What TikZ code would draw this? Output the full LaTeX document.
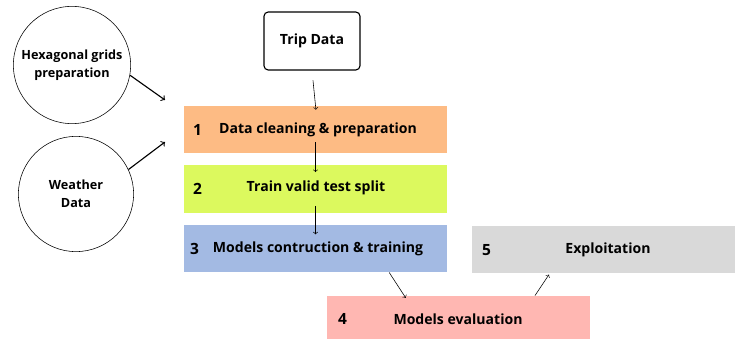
\documentclass[tikz,border=0pt]{standalone}
\usepackage{fontspec}
\setmainfont{Open Sans}
\usetikzlibrary{positioning}
\usetikzlibrary{arrows}

\definecolor{cleanfill}{HTML}{FDBB84}
\definecolor{splitfill}{HTML}{DCF95E}
\definecolor{trainfill}{HTML}{A3BAE3}
\definecolor{evalfill}{HTML}{FFB7B2}
\definecolor{exploitfill}{HTML}{D9D9D9}

\begin{document}
\begin{tikzpicture}[x=0.025cm,y=-0.025cm,->,semithick,
  font=\bfseries\fontsize{10}{12}\selectfont,
  source/.style={circle,draw,thin,minimum size=2.88cm,align=center,font=\bfseries\fontsize{9}{13}\selectfont},
  stage/.style={rectangle,minimum width=6.55cm,minimum height=1.175cm,inner sep=0pt},
  stagenum/.style={anchor=west,font=\bfseries\fontsize{11}{13}\selectfont}]
\useasboundingbox (0,0) rectangle (737,339);

\node[source]  (hex)     at (72,65)   {Hexagonal grids\\preparation};
\node[source]  (weather) at (76,194)  {Weather\\Data};
\node[draw,thick,rounded corners=3pt,minimum width=2.4cm,minimum height=1.45cm] (trip) at (312,41) {Trip Data};

\node[stage,fill=cleanfill]   (clean)   at (315.5,129.5) {};
\node[stage,fill=splitfill]   (split)   at (315.5,189)   {};
\node[stage,fill=trainfill]   (train)   at (315.5,248.5) {};
\node[stage,fill=exploitfill] (exploit) at (603.5,249.5) {};
\node[stage,fill=evalfill,minimum height=1.075cm] (eval) at (458.5,317.5) {};

\node[stagenum] (n1) at (188,129.5) {1};
\node[stagenum] (n2) at (188,189)   {2};
\node[stagenum] (n3) at (185,248.5) {3};
\node[stagenum] (n4) at (333,319)   {4};
\node[stagenum] (n5) at (477,250)   {5};

\node (t1) at (318,129.5) {Data cleaning \& preparation};
\node (t2) at (316,188)   {Train valid test split};
\node (t3) at (318,248.5) {Models contruction \& training};
\node (t4) at (458,319)   {Models evaluation};
\node (t5) at (608,250)   {Exploitation};

\coordinate (hexend)     at (165,100);
\coordinate (weatherend) at (165,142);

% inputs
\path (hex.-10)    edge [thick] (hexend)
      (weather.25) edge [thick] (weatherend);

% pipeline
\path (trip.south)  edge [thin,shorten <=7pt,shorten >=-3pt] (clean.north)
      (clean.south) edge [thin,shorten <=-8pt,shorten >=-5pt] (split.north)
      (split.south) edge [thin,shorten <=-5pt,shorten >=-7pt] (train.north)
      (train.-18)   edge [thin,shorten >=-2pt] (eval.158)
      (eval.16)     edge [thin,shorten >=1pt] (exploit.-156);

\end{tikzpicture}
\end{document}
